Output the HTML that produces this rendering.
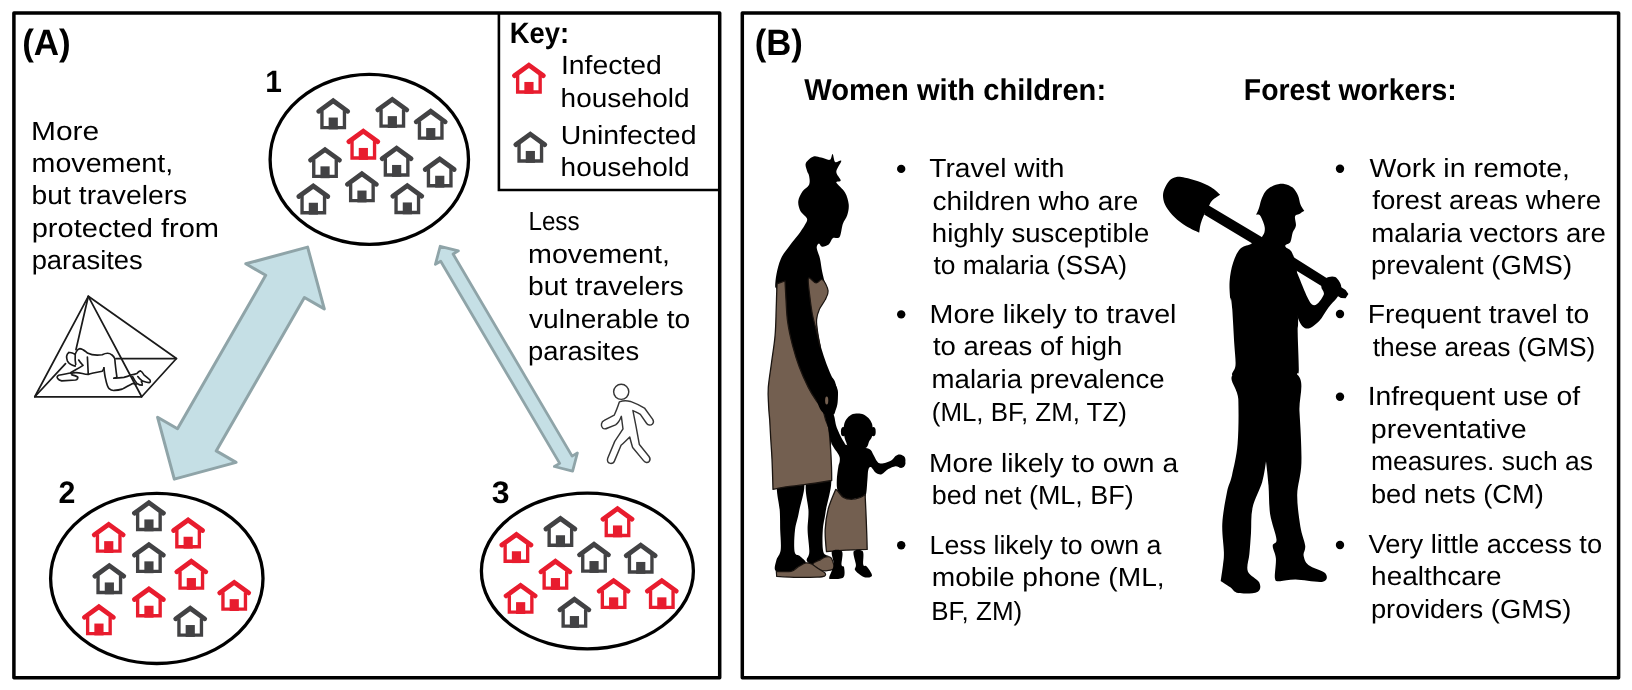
<!DOCTYPE html>
<html><head><meta charset="utf-8"><title>Figure</title>
<style>
html,body{margin:0;padding:0;background:#fff;}
svg{display:block;}
text{font-family:"Liberation Sans",sans-serif;fill:#000;text-rendering:geometricPrecision;}
</style></head>
<body>
<svg width="1632" height="690" viewBox="0 0 1632 690">
<defs>
<symbol id="h" viewBox="0 0 35 32" overflow="visible">
<path d="M2.8,13.7 L17.5,3.0 L32.2,13.7" fill="none" stroke="currentColor" stroke-width="4.8" stroke-linecap="round" stroke-linejoin="miter"/>
<path d="M6.1,13 V30.15 H28.9 V13" fill="none" stroke="currentColor" stroke-width="3.4" stroke-linejoin="miter"/>
<rect x="12.9" y="20.0" width="9.3" height="12" fill="currentColor"/>
</symbol>
</defs>
<rect width="1632" height="690" fill="#fff"/>
<rect x="13.9" y="13.1" width="705.8" height="664.7" fill="none" stroke="#000" stroke-width="3.5" stroke-linejoin="round"/>
<rect x="742.3" y="13.1" width="876.3" height="664.7" fill="none" stroke="#000" stroke-width="3.5" stroke-linejoin="round"/>
<path d="M498.9,13.1 V190 H719.7" fill="none" stroke="#000" stroke-width="2.6"/>
<ellipse cx="369.3" cy="159.4" rx="99.2" ry="85.0" fill="none" stroke="#000" stroke-width="3.3"/>
<ellipse cx="156.8" cy="578.4" rx="106.2" ry="85.1" fill="none" stroke="#000" stroke-width="3.3"/>
<ellipse cx="587.4" cy="571" rx="106.0" ry="77.8" fill="none" stroke="#000" stroke-width="3.3"/>
<path d="M307.6,247.1 L245.8,263.8 L265.7,275.3 L177.5,428.7 L157.6,417.3 L174.3,479.1 L236.1,462.4 L216.2,450.9 L304.4,297.5 L324.3,308.9 Z" fill="#c5dfe5" stroke="#8fa4a8" stroke-width="3" stroke-linejoin="round"/>
<path d="M440.2,246.3 L435.4,264.4 L440.7,261.3 L559.7,463.4 L554.4,466.5 L572.6,471.1 L577.4,453.0 L572.1,456.1 L453.1,254.0 L458.4,250.9 Z" fill="#c5dfe5" stroke="#8fa4a8" stroke-width="2.8" stroke-linejoin="round"/>
<use href="#h" x="511.6" y="62.2" width="34.6" height="31.6" color="#e81c2e"/>
<use href="#h" x="513.0" y="131.2" width="34.6" height="31.6" color="#424244"/>
<use href="#h" x="315.9" y="97.8" width="34.6" height="31.6" color="#424244"/>
<use href="#h" x="375.0" y="96.4" width="34.6" height="31.6" color="#424244"/>
<use href="#h" x="413.4" y="108.3" width="34.6" height="31.6" color="#424244"/>
<use href="#h" x="346.0" y="128.2" width="34.6" height="31.6" color="#e81c2e"/>
<use href="#h" x="307.7" y="146.6" width="34.6" height="31.6" color="#424244"/>
<use href="#h" x="379.3" y="145.2" width="34.6" height="31.6" color="#424244"/>
<use href="#h" x="422.4" y="156.0" width="34.6" height="31.6" color="#424244"/>
<use href="#h" x="344.6" y="170.8" width="34.6" height="31.6" color="#424244"/>
<use href="#h" x="296.0" y="183.0" width="34.6" height="31.6" color="#424244"/>
<use href="#h" x="390.0" y="182.7" width="34.6" height="31.6" color="#424244"/>
<use href="#h" x="131.6" y="499.7" width="34.6" height="31.6" color="#424244"/>
<use href="#h" x="91.4" y="521.4" width="34.6" height="31.6" color="#e81c2e"/>
<use href="#h" x="170.8" y="517.0" width="34.6" height="31.6" color="#e81c2e"/>
<use href="#h" x="131.6" y="541.6" width="34.6" height="31.6" color="#424244"/>
<use href="#h" x="92.0" y="562.7" width="34.6" height="31.6" color="#424244"/>
<use href="#h" x="174.0" y="558.3" width="34.6" height="31.6" color="#e81c2e"/>
<use href="#h" x="216.9" y="579.4" width="34.6" height="31.6" color="#e81c2e"/>
<use href="#h" x="131.6" y="586.0" width="34.6" height="31.6" color="#e81c2e"/>
<use href="#h" x="81.6" y="603.8" width="34.6" height="31.6" color="#e81c2e"/>
<use href="#h" x="172.9" y="605.3" width="34.6" height="31.6" color="#424244"/>
<use href="#h" x="600.2" y="505.7" width="34.6" height="31.6" color="#e81c2e"/>
<use href="#h" x="543.1" y="515.5" width="34.6" height="31.6" color="#424244"/>
<use href="#h" x="499.1" y="531.5" width="34.6" height="31.6" color="#e81c2e"/>
<use href="#h" x="576.7" y="541.3" width="34.6" height="31.6" color="#424244"/>
<use href="#h" x="623.4" y="542.2" width="34.6" height="31.6" color="#424244"/>
<use href="#h" x="538.1" y="558.3" width="34.6" height="31.6" color="#e81c2e"/>
<use href="#h" x="503.3" y="582.4" width="34.6" height="31.6" color="#e81c2e"/>
<use href="#h" x="596.3" y="577.6" width="34.6" height="31.6" color="#e81c2e"/>
<use href="#h" x="644.5" y="577.6" width="34.6" height="31.6" color="#e81c2e"/>
<use href="#h" x="557.1" y="596.3" width="34.6" height="31.6" color="#424244"/>
<circle cx="901.2" cy="168.9" r="4.2" fill="#000"/>
<circle cx="901.2" cy="314.4" r="4.2" fill="#000"/>
<circle cx="901.2" cy="463.5" r="4.2" fill="#000"/>
<circle cx="901.2" cy="545.3" r="4.2" fill="#000"/>
<circle cx="1340" cy="168.7" r="4.2" fill="#000"/>
<circle cx="1340" cy="314.0" r="4.2" fill="#000"/>
<circle cx="1340" cy="396.7" r="4.2" fill="#000"/>
<circle cx="1340" cy="545" r="4.2" fill="#000"/>
<g fill="none" stroke="#1a1a1a" stroke-linejoin="round" stroke-linecap="round">
<g transform="translate(20,285) scale(0.17382)" stroke-width="10">
<path d="M393,65 L85,643 L700,643 L900,423 Z"/>
<path d="M393,65 L700,643"/>
<path d="M393,65 L322,372"/>
<path d="M85,643 L262,452"/>
<path d="M552,423 L900,423"/>
</g>
<g transform="translate(50,340) scale(0.08696)" stroke-width="19">
<path d="M215,145 C235,140 265,150 290,165 C300,135 315,105 340,100 C375,100 405,130 430,150 C470,170 530,180 600,170 C640,150 680,145 710,170 C730,185 740,200 745,215 C750,280 760,360 770,430 L735,440"/>
<path d="M215,145 C190,165 185,200 200,240 C215,270 245,290 290,300 M290,165 C288,200 290,250 296,282 M330,230 C345,255 365,275 380,292 C350,312 320,330 300,340 C275,355 250,370 230,380 C190,392 140,398 100,405 C80,415 78,432 88,442 C100,458 120,466 135,470 L295,460 C315,455 325,440 318,425 C300,412 270,405 250,400"/>
<path d="M240,385 C275,372 330,376 372,385 C400,392 420,395 440,395 C470,385 520,375 600,360 C612,345 618,335 620,320"/>
<path d="M430,195 L440,392"/>
<path d="M620,320 C625,370 632,420 640,450 C650,500 662,540 680,560 C700,578 720,582 740,580 C775,578 805,572 830,565 C870,545 910,520 950,500 C965,502 978,505 990,510"/>
<path d="M735,440 C780,438 820,434 850,430 C885,422 915,410 940,400 C960,398 980,392 1000,385 C1012,368 1025,358 1040,355 C1060,365 1070,385 1080,400 C1105,420 1130,440 1150,460 C1158,478 1152,488 1140,490 C1110,488 1085,478 1060,470 C1040,455 1022,438 1010,420"/>
<path d="M950,420 C965,450 982,480 1000,500 C1020,512 1042,520 1060,520 C1066,505 1060,490 1050,480"/>
</g>
</g>

<g transform="translate(585,375) scale(0.13769)" fill="#fff" stroke="#363636" stroke-width="10.5" stroke-linejoin="round" stroke-linecap="round">
<circle cx="263" cy="122" r="55"/>
<path d="M250,195 C240,225 228,260 212,292 L140,330 C118,340 112,368 128,385 C140,396 152,392 165,385 L222,362 C240,350 255,325 264,300 C268,330 272,360 276,392 C255,425 235,452 216,482 L165,605 C158,625 168,640 185,642 C200,643 210,635 215,622 L262,510 C285,490 305,470 325,450 C332,478 338,502 346,526 L425,622 C438,638 455,640 466,628 C476,616 472,602 465,592 L395,505 C380,420 365,340 348,258 C368,268 385,275 402,286 L448,352 C458,366 478,368 490,356 C500,345 498,332 492,322 L432,240 C400,222 365,205 330,192 C305,186 275,186 250,195 Z"/>
</g>

<g id="woman">
<path d="M813.5,156.5 C816.0,155.6 818.4,157.1 821.1,157.6 C823.8,158.2 827.9,160.4 829.8,159.8 C831.7,159.2 831.7,153.6 832.6,153.9 C833.5,154.3 833.8,160.8 835.2,162.0 C836.7,163.1 841.1,159.2 841.3,160.9 C841.5,162.5 836.4,168.5 836.3,171.7 C836.2,175.0 840.7,178.6 840.7,180.4 C840.7,182.2 835.6,180.6 836.3,182.6 C837.0,184.6 842.9,188.8 845.0,192.4 C847.1,196.0 848.3,200.5 848.7,204.3 C849.1,208.2 848.2,212.0 847.2,215.2 C846.2,218.5 844.1,220.3 842.8,223.9 C841.6,227.5 841.2,234.6 839.6,237.0 C837.9,239.3 834.9,236.8 833.0,238.0 C831.2,239.3 830.5,243.1 828.7,244.6 C826.9,246.0 823.8,246.9 822.2,246.7 C820.5,246.6 819.8,243.3 818.9,243.5 C818.0,243.7 816.6,245.3 816.7,247.8 C816.9,250.4 819.1,254.7 820.0,258.7 C820.9,262.7 821.4,268.1 822.2,271.7 C822.9,275.4 823.7,278.1 824.3,280.4 C825.0,282.8 825.8,282.6 826.1,285.9 C826.4,289.1 826.1,300.0 826.1,300.0 C826.1,300.0 778.7,300.0 778.7,300.0 C778.7,300.0 777.1,291.5 776.5,289.1 C775.9,286.8 775.2,288.4 775.2,285.9 C775.2,283.3 775.6,278.4 776.5,273.9 C777.5,269.4 778.7,263.4 780.9,258.7 C783.0,254.0 786.7,249.6 789.6,245.7 C792.5,241.7 795.7,238.2 798.3,234.8 C800.8,231.3 803.3,227.7 804.8,225.0 C806.2,222.3 807.7,220.8 807.0,218.5 C806.2,216.1 801.9,213.8 800.4,210.9 C799.0,208.0 797.9,204.3 798.3,201.1 C798.6,197.8 800.8,194.0 802.6,191.3 C804.4,188.6 808.0,187.3 809.1,184.8 C810.2,182.2 809.5,178.4 809.1,176.1 C808.8,173.7 807.5,172.8 807.0,170.7 C806.4,168.5 804.8,165.4 805.9,163.0 C807.0,160.7 810.9,157.4 813.5,156.5 Z" fill="#000"/>
<path d="M780.9,280.4 C780.9,280.4 819.5,279.9 819.5,279.9 C819.5,279.9 824.7,287.5 825.2,290.9 C825.7,294.2 823.7,297.0 822.6,300.0 C821.5,303.0 819.4,305.9 818.4,309.1 C817.5,312.4 817.0,315.7 816.9,319.6 C816.8,323.5 817.2,327.8 817.9,332.6 C818.7,337.4 819.9,343.0 821.3,348.3 C822.7,353.5 824.6,358.7 826.5,363.9 C828.5,369.1 831.2,375.2 833.0,379.6 C834.9,383.9 837.0,386.5 837.7,390.0 C838.4,393.5 837.9,397.0 837.2,400.4 C836.5,403.9 834.8,407.7 833.6,410.9 C832.3,414.0 830.8,416.6 829.9,419.2 C829.0,421.8 828.8,421.4 828.3,426.5 C827.9,431.7 836.1,446.1 827.3,450.0 C818.5,453.9 784.7,455.7 775.7,450.0 C766.6,444.3 773.6,426.5 773.0,416.1 C772.5,405.7 772.1,396.5 772.5,387.4 C773.0,378.3 774.6,370.0 775.7,361.3 C776.7,352.6 778.1,343.9 778.8,335.2 C779.5,326.5 779.7,317.4 779.8,309.1 C780.0,300.9 779.7,290.4 779.8,285.7 C780.0,280.9 780.9,280.4 780.9,280.4 Z" fill="#000"/>
<path d="M778.3,481.3 C774.3,486.3 779.5,503.2 779.8,511.3 C780.2,519.4 780.1,523.6 780.2,530.0 C780.4,536.4 781.3,544.9 780.7,550.0 C780.0,555.1 777.1,557.0 776.3,560.4 C775.5,563.9 773.4,569.1 775.9,570.9 C778.3,572.7 787.4,572.0 791.1,571.3 C794.8,570.7 795.6,568.4 798.0,567.0 C800.5,565.6 805.6,564.7 805.9,562.9 C806.2,561.1 801.7,557.9 799.8,556.1 C797.9,554.2 795.4,556.1 794.6,551.7 C793.8,547.4 794.2,536.7 795.0,530.0 C795.8,523.3 797.7,519.4 799.1,511.3 C800.5,503.2 806.8,486.3 803.3,481.3 C799.8,476.3 782.2,476.3 778.3,481.3 Z" fill="#000"/>
<path d="M807.0,481.3 C803.3,486.9 808.4,503.2 808.5,511.3 C808.6,519.4 807.5,523.3 807.6,530.0 C807.7,536.7 809.5,546.7 809.3,551.7 C809.2,556.8 806.2,558.3 806.7,560.4 C807.3,562.5 810.5,564.5 812.8,564.3 C815.1,564.2 818.5,560.8 820.7,559.6 C822.8,558.3 824.4,557.5 825.9,557.0 C827.3,556.4 829.8,557.0 829.3,556.1 C828.9,555.2 824.3,556.1 823.3,551.7 C822.2,547.4 822.4,536.7 822.8,530.0 C823.2,523.3 824.5,520.0 825.7,511.3 C827.0,502.6 833.6,482.9 830.4,477.9 C827.3,472.9 810.6,475.7 807.0,481.3 Z" fill="#000"/>
<path d="M812.8,564.3 C812.8,562.6 818.5,560.8 820.7,559.6 C822.8,558.3 824.1,557.2 825.9,557.0 C827.6,556.7 829.7,556.2 831.1,557.8 C832.5,559.4 833.7,564.6 834.1,566.5 C834.6,568.4 835.1,568.4 833.7,569.1 C832.3,569.9 828.0,570.7 825.9,570.9 C823.7,571.0 822.8,571.1 820.7,570.0 C818.5,568.9 812.8,566.1 812.8,564.3 Z" fill="#735f50" stroke="#1a1410" stroke-width="1.2" stroke-linejoin="round"/>
<path d="M776.3,571.3 C776.3,571.3 787.5,572.0 791.1,571.3 C794.7,570.6 795.6,568.4 798.0,567.0 C800.5,565.6 803.6,563.3 805.9,562.9 C808.2,562.4 809.8,563.3 812.0,564.3 C814.1,565.4 816.7,567.7 818.9,569.1 C821.1,570.6 824.1,571.9 825.0,573.0 C825.9,574.2 825.8,575.4 824.5,576.1 C823.2,576.8 821.6,576.9 817.2,577.1 C812.8,577.3 804.8,577.5 798.0,577.4 C791.3,577.3 776.7,576.4 776.7,576.4 C776.7,576.4 776.3,571.3 776.3,571.3 Z" fill="#735f50" stroke="#1a1410" stroke-width="1.2" stroke-linejoin="round"/>
<path d="M785.0,281.0 C785.0,281.0 785.7,294.4 786.1,301.3 C786.5,308.2 786.6,314.8 787.7,322.2 C788.7,329.6 790.7,338.3 792.6,345.7 C794.5,353.0 796.5,359.6 799.1,366.5 C801.7,373.5 805.4,381.7 808.3,387.4 C811.1,393.0 813.8,397.0 816.1,400.4 C818.4,403.9 820.5,405.0 822.1,408.3 C823.7,411.5 824.7,417.0 825.7,420.0 C826.8,423.0 827.8,425.2 828.3,426.5 C828.9,427.8 828.5,424.6 828.9,427.8 C829.2,431.1 830.0,439.6 830.4,446.1 C830.9,452.6 831.3,461.2 831.5,467.0 C831.7,472.7 831.7,480.5 831.7,480.5 C831.7,480.5 812.0,483.7 804.3,484.7 C796.7,485.7 791.3,486.0 786.1,486.8 C780.9,487.6 773.0,489.4 773.0,489.4 C773.0,489.4 772.4,467.7 772.0,459.1 C771.6,450.6 771.1,444.8 770.7,438.3 C770.3,431.7 770.0,425.4 769.7,420.0 C769.3,414.6 768.8,411.1 768.6,405.7 C768.4,400.2 767.8,394.8 768.3,387.4 C768.9,380.0 770.6,370.0 771.7,361.3 C772.9,352.6 774.4,343.9 775.1,335.2 C775.9,326.5 775.9,317.4 776.2,309.1 C776.5,300.9 776.7,289.9 777.0,285.7 C777.2,281.4 777.5,283.6 777.5,283.6 C777.5,283.6 785.0,281.0 785.0,281.0 Z" fill="#735f50" stroke="#1a1410" stroke-width="1.3" stroke-linejoin="round"/>
<path d="M808.5,278.3 C809.6,276.2 813.7,282.8 816.1,283.0 C818.4,283.3 820.6,278.3 822.6,279.7 C824.6,281.0 827.7,287.5 828.1,290.9 C828.5,294.3 826.4,297.0 825.0,300.0 C823.5,303.0 820.9,305.9 819.5,309.1 C818.1,312.4 816.9,315.7 816.6,319.6 C816.3,323.5 817.0,328.0 817.7,332.6 C818.3,337.2 820.5,347.3 820.3,347.0 C820.0,346.6 817.7,336.0 816.3,330.5 C815.0,325.1 813.5,320.1 812.4,314.3 C811.3,308.6 810.5,302.1 809.8,296.1 C809.2,290.1 807.5,280.5 808.5,278.3 Z" fill="#735f50" stroke="#1a1410" stroke-width="1.2" stroke-linejoin="round"/>
<path d="M857.8,413.6 C855.8,413.7 853.2,413.8 851.3,414.8 C849.4,415.7 847.4,417.9 846.2,419.4 C845.0,421.0 844.6,422.6 844.2,424.2 C843.8,425.8 843.7,427.1 843.8,429.3 C843.8,431.4 844.1,435.1 844.5,437.2 C844.9,439.4 845.6,440.7 846.2,442.3 C846.9,443.9 846.5,445.5 848.4,446.7 C850.3,447.9 854.8,449.4 857.8,449.6 C860.8,449.7 864.6,448.7 866.5,447.4 C868.4,446.1 868.2,443.4 869.1,441.6 C870.0,439.8 871.4,438.6 872.0,436.5 C872.6,434.5 872.6,431.4 872.6,429.3 C872.6,427.1 872.5,425.3 871.9,423.5 C871.2,421.6 870.1,419.8 868.7,418.3 C867.3,416.8 865.4,415.3 863.6,414.5 C861.8,413.7 859.9,413.6 857.8,413.6 Z" fill="#000"/>
<ellipse cx="843.3" cy="431.7" rx="2.4" ry="4.6" fill="#000"/>
<ellipse cx="873.3" cy="431.7" rx="2.4" ry="4.6" fill="#000"/>
<path d="M815.8,371.3 C819.2,369.9 828.2,374.2 831.7,377.1 C835.2,380.0 835.8,384.6 836.8,388.7 C837.8,392.8 837.9,398.1 837.7,401.7 C837.5,405.4 836.3,408.3 835.5,410.4 C834.8,412.6 834.8,414.1 833.2,414.8 C831.6,415.5 828.1,415.7 825.9,414.8 C823.8,413.8 821.8,411.9 820.1,409.0 C818.5,406.1 817.2,401.3 815.8,397.4 C814.3,393.5 811.4,390.1 811.4,385.8 C811.4,381.4 812.4,372.8 815.8,371.3 Z" fill="#000"/>
<ellipse cx="826.7" cy="400.6" rx="1.6" ry="4" fill="#735f50"/>
<path d="M825.9,414.1 C826.8,411.8 831.4,411.8 833.2,414.1 C835.0,416.4 835.0,423.1 836.8,427.8 C838.6,432.5 842.2,439.4 844.1,442.3 C845.9,445.2 844.1,444.3 847.7,445.2 C851.3,446.2 861.9,447.3 865.8,448.1 C869.7,449.0 869.5,449.1 870.9,450.3 C872.2,451.5 872.3,453.2 873.8,455.4 C875.2,457.5 876.7,462.5 879.6,463.3 C882.5,464.2 888.5,461.6 891.2,460.4 C893.8,459.2 894.1,457.1 895.5,456.1 C897.0,455.1 898.3,454.4 899.9,454.6 C901.4,454.9 904.1,456.0 904.9,457.5 C905.8,459.1 905.5,462.4 904.9,464.1 C904.3,465.7 902.9,467.3 901.3,467.7 C899.7,468.0 897.7,466.0 895.5,466.2 C893.3,466.5 890.6,467.8 888.3,469.1 C886.0,470.5 883.8,473.6 881.7,474.2 C879.7,474.8 877.8,474.0 875.9,472.8 C874.1,471.5 872.1,467.4 870.9,467.0 C869.6,466.5 868.8,467.7 868.3,469.9 C867.7,472.0 867.8,475.7 867.4,480.0 C867.0,484.3 866.8,492.7 865.7,495.7 C864.5,498.6 862.8,496.9 860.4,497.5 C858.0,498.1 854.1,499.3 851.3,499.3 C848.5,499.3 845.7,498.9 843.5,497.5 C841.2,496.1 838.9,493.9 837.7,491.0 C836.6,488.0 836.7,484.0 836.8,480.0 C836.9,476.0 837.8,470.1 838.3,467.0 C838.7,463.8 839.6,463.1 839.7,461.2 C839.8,459.2 840.3,458.3 839.0,455.4 C837.7,452.5 833.6,448.4 831.7,443.8 C829.9,439.2 829.1,432.8 828.1,427.8 C827.1,422.9 825.1,416.4 825.9,414.1 Z" fill="#000"/>
<path d="M835.7,489.4 C835.7,489.4 836.4,489.6 837.7,491.0 C839.0,492.3 841.2,496.1 843.5,497.5 C845.7,498.9 848.5,499.3 851.3,499.3 C854.1,499.3 858.1,498.3 860.4,497.5 C862.7,496.7 865.1,494.6 865.1,494.6 C865.1,494.6 866.1,515.2 866.4,524.3 C866.8,533.5 867.2,549.4 867.2,549.4 C867.2,549.4 852.9,549.8 846.1,550.2 C839.3,550.6 826.5,551.7 826.5,551.7 C826.5,551.7 824.9,536.7 825.2,529.6 C825.5,522.4 826.6,515.4 828.3,508.7 C830.1,502.0 835.7,489.4 835.7,489.4 Z" fill="#735f50" stroke="#1a1410" stroke-width="1.3" stroke-linejoin="round"/>
<path d="M832.0,551.3 C830.6,553.6 834.1,560.5 833.7,564.8 C833.3,569.1 829.8,574.6 829.3,577.0 C828.9,579.3 828.8,578.8 831.1,578.9 C833.4,578.9 841.1,579.3 843.3,577.4 C845.4,575.5 844.4,569.5 844.1,567.4 C843.8,565.3 841.9,567.5 841.5,564.8 C841.2,562.1 843.6,553.6 842.0,551.3 C840.4,549.1 833.3,549.1 832.0,551.3 Z" fill="#000"/>
<path d="M853.7,551.3 C852.5,553.6 855.7,561.7 855.9,564.8 C856.1,567.9 854.2,568.3 855.0,570.0 C855.8,571.7 858.7,574.0 860.7,575.2 C862.6,576.5 864.9,577.6 866.7,577.6 C868.6,577.6 872.0,577.1 872.0,575.2 C872.0,573.4 868.2,568.3 866.7,566.5 C865.3,564.8 863.9,567.3 863.3,564.8 C862.6,562.2 864.4,553.6 862.8,551.3 C861.2,549.1 854.9,549.1 853.7,551.3 Z" fill="#000"/>
</g>

<g id="worker">
<path d="M1176.5,177.0 C1173.9,177.5 1171.4,178.5 1169.3,180.7 C1167.3,182.8 1165.2,187.0 1164.1,189.8 C1163.1,192.6 1162.8,194.8 1163.1,197.6 C1163.4,200.4 1164.2,203.5 1166.1,206.7 C1168.0,210.0 1171.2,213.9 1174.6,217.2 C1177.9,220.4 1182.2,223.7 1186.3,226.3 C1190.4,228.9 1199.3,232.6 1199.3,232.6 C1199.3,232.6 1199.9,226.6 1200.7,223.7 C1201.4,220.8 1202.6,218.0 1203.9,215.2 C1205.2,212.4 1207.1,209.2 1208.5,206.7 C1209.9,204.2 1210.4,202.2 1212.4,200.2 C1214.3,198.2 1220.2,194.7 1220.2,194.7 C1220.2,194.7 1214.8,189.4 1211.1,187.2 C1207.4,184.9 1202.4,182.9 1198.0,181.3 C1193.7,179.7 1188.6,178.5 1185.0,177.8 C1181.4,177.1 1179.1,176.5 1176.5,177.0 Z" fill="#000"/>
<path d="M1207.6,204.8 L1260.9,236.6 L1345.6,289.9 L1348.4,294.1 L1345.6,298.3 L1341.0,298.1 L1252.8,243.8 L1204.1,214.5 Z" fill="#000"/>
<path d="M1257.0,213.2 C1257.0,213.2 1258.6,209.3 1259.3,207.1 C1260.0,205.0 1260.1,202.8 1261.1,200.2 C1262.2,197.5 1263.5,193.8 1265.6,191.3 C1267.6,188.9 1270.6,186.8 1273.7,185.5 C1276.8,184.3 1280.9,183.6 1284.1,183.9 C1287.3,184.3 1290.4,185.7 1292.7,187.6 C1295.0,189.6 1296.7,192.7 1298.0,195.5 C1299.3,198.4 1299.5,202.2 1300.6,204.8 C1301.6,207.4 1304.3,210.8 1304.3,210.8 C1304.3,210.8 1300.7,213.2 1299.2,214.1 C1297.6,215.0 1295.6,214.5 1295.0,216.4 C1294.5,218.3 1296.3,223.0 1295.9,225.7 C1295.6,228.4 1293.6,229.9 1292.7,232.6 C1291.8,235.3 1291.6,239.8 1290.4,241.9 C1289.1,244.1 1285.9,243.7 1285.3,245.6 C1284.6,247.6 1290.7,252.2 1286.4,253.5 C1282.2,254.8 1264.0,255.8 1259.8,253.5 C1255.5,251.2 1260.4,243.1 1261.1,239.6 C1261.9,236.1 1263.9,235.0 1264.4,232.6 C1264.9,230.3 1265.1,228.5 1264.4,225.7 C1263.7,222.9 1261.6,217.6 1260.2,215.7 C1258.9,213.8 1256.8,215.0 1256.3,214.5 C1255.7,214.1 1257.0,213.2 1257.0,213.2 Z" fill="#000"/>
<path d="M1261.1,239.6 C1255.2,239.0 1254.0,242.7 1250.5,244.2 C1247.0,245.8 1242.9,245.8 1240.0,248.9 C1237.1,252.0 1234.8,257.4 1233.1,262.8 C1231.3,268.2 1230.1,275.2 1229.6,281.4 C1229.1,287.5 1230.1,297.1 1230.3,299.9 C1230.5,302.7 1230.5,296.4 1230.9,298.0 C1231.2,299.6 1231.7,301.8 1232.3,309.6 C1232.8,317.3 1233.8,335.1 1234.3,344.3 C1234.9,353.6 1235.9,360.2 1235.5,365.2 C1235.1,370.2 1231.8,372.2 1232.0,374.5 C1232.2,376.8 1236.0,376.4 1236.7,379.1 C1237.4,381.8 1236.2,390.7 1236.2,390.7 C1236.2,390.7 1298.1,390.7 1298.1,390.7 C1298.1,390.7 1296.8,378.0 1297.0,374.5 C1297.1,371.0 1298.7,376.8 1298.8,369.9 C1298.9,362.9 1297.8,341.1 1297.7,332.8 C1297.5,324.4 1298.2,330.1 1298.1,320.0 C1298.0,309.9 1297.7,282.8 1296.9,272.1 C1296.1,261.4 1295.1,259.9 1293.4,255.8 C1291.7,251.8 1291.8,250.4 1286.4,247.7 C1281.1,245.0 1267.1,240.2 1261.1,239.6 Z" fill="#000"/>
<path d="M1288.8,253.9 C1290.6,253.5 1293.1,264.0 1297.0,272.5 C1300.8,280.9 1307.6,300.7 1312.0,304.5 C1316.5,308.2 1322.1,298.0 1323.6,295.0 C1325.2,291.9 1320.9,289.2 1321.3,286.4 C1321.7,283.6 1323.6,279.8 1325.9,278.3 C1328.3,276.7 1332.7,275.9 1335.2,277.1 C1337.7,278.3 1340.2,282.5 1341.0,285.2 C1341.8,287.9 1340.6,291.1 1339.9,293.3 C1339.1,295.5 1338.3,296.0 1336.4,298.4 C1334.4,300.8 1331.2,303.9 1328.3,307.7 C1325.4,311.5 1322.5,317.7 1319.0,321.2 C1315.5,324.6 1310.7,328.6 1307.4,328.6 C1304.1,328.6 1301.6,325.9 1299.3,321.2 C1297.0,316.4 1295.6,308.0 1293.5,300.3 C1291.4,292.6 1287.3,282.5 1286.5,274.8 C1285.7,267.1 1287.1,254.3 1288.8,253.9 Z" fill="#000"/>
<path d="M1235.1,373.6 C1225.5,377.9 1237.8,387.4 1238.3,399.1 C1238.7,410.8 1238.7,431.0 1237.6,443.8 C1236.6,456.5 1233.6,467.7 1231.9,475.7 C1230.1,483.6 1228.7,483.6 1227.1,491.6 C1225.5,499.6 1222.8,513.4 1222.3,523.5 C1221.8,533.6 1223.8,545.3 1223.9,552.2 C1224.0,559.1 1223.5,560.1 1223.0,564.9 C1222.4,569.7 1220.7,580.9 1220.7,580.9 C1220.7,580.9 1227.4,585.2 1230.3,587.2 C1233.2,589.3 1233.7,592.2 1238.3,593.0 C1242.8,593.8 1253.9,593.8 1257.4,592.0 C1260.9,590.3 1260.9,585.9 1259.3,582.5 C1257.7,579.0 1249.5,576.1 1247.8,571.3 C1246.2,566.5 1248.9,560.1 1249.4,553.8 C1250.0,547.4 1250.5,540.7 1251.0,533.0 C1251.5,525.3 1250.7,516.0 1252.6,507.5 C1254.5,499.0 1259.9,489.7 1262.2,482.0 C1264.4,474.3 1266.0,461.3 1266.0,461.3 C1266.0,461.3 1267.9,476.4 1268.5,485.2 C1269.2,494.0 1268.8,504.9 1270.1,513.9 C1271.5,522.9 1276.1,534.1 1276.5,539.4 C1276.9,544.7 1272.8,542.6 1272.7,545.8 C1272.6,549.0 1275.5,553.1 1275.9,558.5 C1276.3,564.0 1274.3,574.5 1274.9,578.3 C1275.6,582.1 1276.3,581.0 1279.7,581.2 C1283.2,581.4 1288.5,579.5 1295.7,579.6 C1302.8,579.7 1317.8,582.9 1322.8,581.8 C1327.7,580.8 1327.7,576.0 1325.3,573.2 C1322.9,570.4 1312.0,567.9 1308.4,564.9 C1304.8,561.9 1304.2,558.5 1303.6,555.4 C1303.1,552.2 1305.7,550.6 1305.2,545.8 C1304.7,541.0 1301.8,535.2 1300.4,526.7 C1299.1,518.2 1297.1,505.4 1297.2,494.8 C1297.4,484.2 1301.0,476.7 1301.4,462.9 C1301.8,449.1 1300.4,426.8 1299.5,411.9 C1298.5,397.0 1306.4,380.0 1295.7,373.6 C1284.9,367.2 1244.6,369.4 1235.1,373.6 Z" fill="#000"/>
</g>

<g id="txt" style="filter:grayscale(1)">
<text id="t0" x="22.13" y="55.20" font-size="36.6" font-weight="bold" textLength="48.62" lengthAdjust="spacingAndGlyphs">(A)</text>
<text id="t1" x="754.69" y="54.90" font-size="36.6" font-weight="bold" textLength="48.22" lengthAdjust="spacingAndGlyphs">(B)</text>
<text id="t2" x="509.68" y="43.20" font-size="29.5" font-weight="bold" textLength="59.34" lengthAdjust="spacingAndGlyphs">Key:</text>
<text id="t3" x="560.93" y="73.90" font-size="26.3" textLength="100.95" lengthAdjust="spacingAndGlyphs">Infected</text>
<text id="t4" x="560.63" y="106.50" font-size="26.3" textLength="129.00" lengthAdjust="spacingAndGlyphs">household</text>
<text id="t5" x="560.67" y="144.10" font-size="26.3" textLength="135.81" lengthAdjust="spacingAndGlyphs">Uninfected</text>
<text id="t6" x="560.63" y="176.20" font-size="26.3" textLength="129.00" lengthAdjust="spacingAndGlyphs">household</text>
<text id="t7" x="265.21" y="92.20" font-size="31.0" font-weight="bold" textLength="16.64" lengthAdjust="spacingAndGlyphs">1</text>
<text id="t8" x="58.61" y="503.20" font-size="31.0" font-weight="bold" textLength="16.87" lengthAdjust="spacingAndGlyphs">2</text>
<text id="t9" x="491.86" y="503.00" font-size="31.0" font-weight="bold" textLength="17.80" lengthAdjust="spacingAndGlyphs">3</text>
<text id="t10" x="31.01" y="139.60" font-size="26.3" textLength="68.22" lengthAdjust="spacingAndGlyphs">More</text>
<text id="t11" x="31.62" y="172.20" font-size="26.3" textLength="141.50" lengthAdjust="spacingAndGlyphs">movement,</text>
<text id="t12" x="31.64" y="204.40" font-size="26.3" textLength="155.60" lengthAdjust="spacingAndGlyphs">but travelers</text>
<text id="t13" x="31.73" y="237.00" font-size="26.3" textLength="187.27" lengthAdjust="spacingAndGlyphs">protected from</text>
<text id="t14" x="31.65" y="269.10" font-size="26.3" textLength="111.10" lengthAdjust="spacingAndGlyphs">parasites</text>
<text id="t15" x="528.49" y="230.30" font-size="26.3" textLength="51.05" lengthAdjust="spacingAndGlyphs">Less</text>
<text id="t16" x="527.99" y="262.70" font-size="26.3" textLength="141.92" lengthAdjust="spacingAndGlyphs">movement,</text>
<text id="t17" x="528.00" y="295.20" font-size="26.3" textLength="155.77" lengthAdjust="spacingAndGlyphs">but travelers</text>
<text id="t18" x="529.06" y="327.60" font-size="26.3" textLength="161.20" lengthAdjust="spacingAndGlyphs">vulnerable to</text>
<text id="t19" x="528.00" y="360.00" font-size="26.3" textLength="111.07" lengthAdjust="spacingAndGlyphs">parasites</text>
<text id="t20" x="804.28" y="99.70" font-size="30.0" font-weight="bold" textLength="301.83" lengthAdjust="spacingAndGlyphs">Women with children:</text>
<text id="t21" x="1243.85" y="99.60" font-size="30.0" font-weight="bold" textLength="212.80" lengthAdjust="spacingAndGlyphs">Forest workers:</text>
<text id="t22" x="929.33" y="177.40" font-size="26.3" textLength="135.03" lengthAdjust="spacingAndGlyphs">Travel with</text>
<text id="t23" x="932.54" y="209.70" font-size="26.3" textLength="205.74" lengthAdjust="spacingAndGlyphs">children who are</text>
<text id="t24" x="931.84" y="242.00" font-size="26.3" textLength="217.42" lengthAdjust="spacingAndGlyphs">highly susceptible</text>
<text id="t25" x="933.43" y="274.40" font-size="26.3" textLength="193.55" lengthAdjust="spacingAndGlyphs">to malaria (SSA)</text>
<text id="t26" x="929.53" y="322.90" font-size="26.3" textLength="246.97" lengthAdjust="spacingAndGlyphs">More likely to travel</text>
<text id="t27" x="932.98" y="355.40" font-size="26.3" textLength="189.40" lengthAdjust="spacingAndGlyphs">to areas of high</text>
<text id="t28" x="931.59" y="387.80" font-size="26.3" textLength="232.96" lengthAdjust="spacingAndGlyphs">malaria prevalence</text>
<text id="t29" x="931.81" y="421.20" font-size="26.3" textLength="195.07" lengthAdjust="spacingAndGlyphs">(ML, BF, ZM, TZ)</text>
<text id="t30" x="928.99" y="472.20" font-size="26.3" textLength="249.08" lengthAdjust="spacingAndGlyphs">More likely to own a</text>
<text id="t31" x="931.73" y="503.90" font-size="26.3" textLength="201.89" lengthAdjust="spacingAndGlyphs">bed net (ML, BF)</text>
<text id="t32" x="929.58" y="554.00" font-size="26.3" textLength="231.85" lengthAdjust="spacingAndGlyphs">Less likely to own a</text>
<text id="t33" x="931.74" y="585.70" font-size="26.3" textLength="232.85" lengthAdjust="spacingAndGlyphs">mobile phone (ML,</text>
<text id="t34" x="931.29" y="619.60" font-size="26.3" textLength="90.93" lengthAdjust="spacingAndGlyphs">BF, ZM)</text>
<text id="t35" x="1369.54" y="176.80" font-size="26.3" textLength="200.38" lengthAdjust="spacingAndGlyphs">Work in remote,</text>
<text id="t36" x="1372.25" y="209.20" font-size="26.3" textLength="228.76" lengthAdjust="spacingAndGlyphs">forest areas where</text>
<text id="t37" x="1371.34" y="241.60" font-size="26.3" textLength="234.42" lengthAdjust="spacingAndGlyphs">malaria vectors are</text>
<text id="t38" x="1370.92" y="274.10" font-size="26.3" textLength="201.13" lengthAdjust="spacingAndGlyphs">prevalent (GMS)</text>
<text id="t39" x="1367.87" y="322.60" font-size="26.3" textLength="221.35" lengthAdjust="spacingAndGlyphs">Frequent travel to</text>
<text id="t40" x="1372.79" y="355.60" font-size="26.3" textLength="222.51" lengthAdjust="spacingAndGlyphs">these areas (GMS)</text>
<text id="t41" x="1367.66" y="405.00" font-size="26.3" textLength="212.36" lengthAdjust="spacingAndGlyphs">Infrequent use of</text>
<text id="t42" x="1370.82" y="437.70" font-size="26.3" textLength="155.90" lengthAdjust="spacingAndGlyphs">preventative</text>
<text id="t43" x="1370.92" y="470.40" font-size="26.3" textLength="221.99" lengthAdjust="spacingAndGlyphs">measures. such as</text>
<text id="t44" x="1370.93" y="502.90" font-size="26.3" textLength="172.81" lengthAdjust="spacingAndGlyphs">bed nets (CM)</text>
<text id="t45" x="1368.59" y="553.20" font-size="26.3" textLength="233.53" lengthAdjust="spacingAndGlyphs">Very little access to</text>
<text id="t46" x="1371.11" y="585.40" font-size="26.3" textLength="130.56" lengthAdjust="spacingAndGlyphs">healthcare</text>
<text id="t47" x="1370.93" y="617.80" font-size="26.3" textLength="200.33" lengthAdjust="spacingAndGlyphs">providers (GMS)</text>
</g>
</svg>
</body></html>
